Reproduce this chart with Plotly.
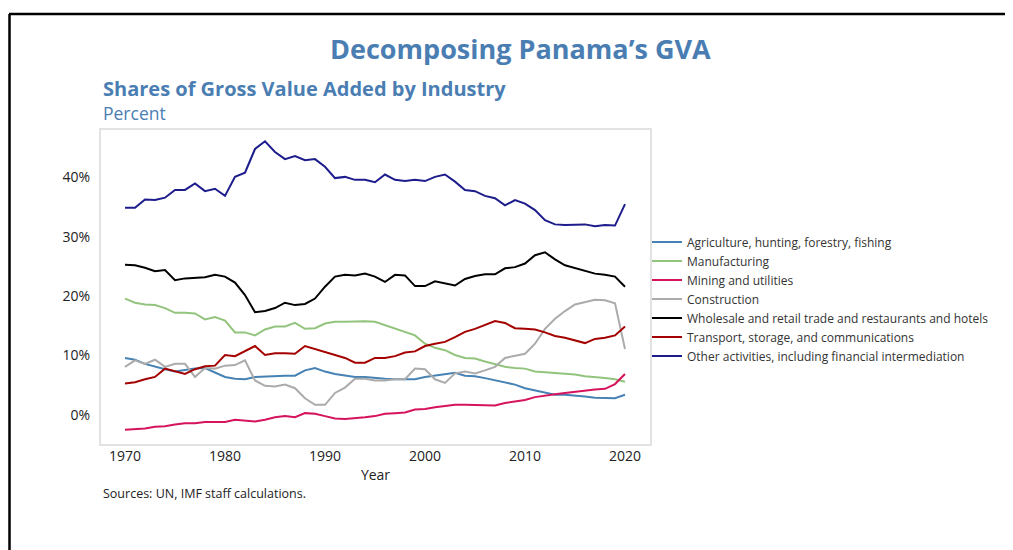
import plotly.graph_objects as go

years = list(range(1970, 2021))

agriculture = [9.6, 9.3, 8.6, 8.1, 7.7, 7.3, 7.6, 7.8, 7.9, 7.2, 6.4,
               6.1, 6.0, 6.4, 6.5, 6.6, 6.6, 6.6, 7.5, 7.9, 7.3,
               6.9, 6.6, 6.4, 6.4, 6.2, 6.1, 6.0, 6.0, 6.0, 6.4,
               6.6, 6.9, 7.1, 6.6, 6.5, 6.2, 5.8, 5.4, 5.1, 4.5,
               4.1, 3.7, 3.4, 3.4, 3.3, 3.1, 2.9, 2.8, 2.8, 3.4]
manufacturing = [19.6, 18.9, 18.6, 18.5, 18.0, 17.2, 17.2, 17.1, 16.1, 16.5, 15.9,
                 13.9, 13.9, 13.4, 14.4, 14.9, 14.9, 15.5, 14.5, 14.6, 15.4,
                 15.7, 15.7, 15.8, 15.8, 15.7, 15.1, 14.5, 14.0, 13.4, 12.0,
                 11.3, 10.9, 10.1, 9.6, 9.5, 9.0, 8.6, 8.1, 7.9, 7.8,
                 7.3, 7.2, 7.0, 6.9, 6.8, 6.5, 6.4, 6.2, 6.0, 5.6]
mining = [-2.5, -2.4, -2.3, -2.0, -1.9, -1.6, -1.4, -1.4, -1.2, -1.2, -1.2,
          -0.8, -0.9, -1.1, -0.8, -0.4, -0.2, -0.4, 0.3, 0.2, -0.2,
          -0.6, -0.7, -0.6, -0.4, -0.2, 0.2, 0.3, 0.4, 0.9, 1.0,
          1.3, 1.5, 1.7, 1.7, 1.7, 1.7, 1.6, 2.0, 2.3, 2.5,
          3.0, 3.3, 3.5, 3.7, 3.9, 4.2, 4.3, 4.4, 5.2, 6.9]
construction = [8.1, 9.2, 8.6, 9.3, 8.1, 8.6, 8.6, 6.4, 7.9, 7.8, 8.3,
                8.4, 9.2, 5.8, 4.9, 4.8, 5.1, 4.5, 2.8, 1.7, 1.7,
                3.7, 4.6, 6.1, 6.1, 5.8, 5.8, 6.0, 6.0, 7.8, 7.7,
                6.0, 5.4, 7.0, 7.3, 7.0, 7.5, 8.1, 9.6, 9.9, 10.3,
                12.0, 14.5, 16.2, 17.5, 18.6, 19.0, 19.4, 19.3, 18.8, 11.1]
wholesale = [25.3, 25.2, 24.8, 24.2, 24.4, 22.7, 23.0, 23.1, 23.2, 23.6, 23.3,
             22.3, 20.2, 17.3, 17.5, 18.0, 18.9, 18.5, 18.7, 19.6, 21.6,
             23.3, 23.6, 23.5, 23.8, 23.3, 22.4, 23.6, 23.5, 21.7, 21.7,
             22.5, 22.2, 21.8, 22.9, 23.4, 23.7, 23.7, 24.7, 24.9, 25.5,
             26.9, 27.4, 26.2, 25.2, 24.7, 24.3, 23.8, 23.6, 23.3, 21.6]
transport = [5.3, 5.5, 6.0, 6.4, 7.8, 7.4, 6.9, 7.7, 8.2, 8.3, 10.1,
             9.9, 10.7, 11.6, 10.1, 10.4, 10.4, 10.3, 11.6, 11.1, 10.6,
             10.0, 9.6, 8.8, 8.8, 9.6, 9.6, 9.9, 10.5, 10.7, 11.6,
             12.0, 12.3, 13.1, 14.0, 14.5, 15.1, 15.8, 15.5, 14.6, 14.5,
             14.4, 13.9, 13.3, 13.0, 12.6, 12.1, 12.8, 13.0, 13.4, 14.9]
other = [34.9, 34.9, 36.3, 36.2, 36.6, 37.9, 37.9, 39.0, 37.7, 38.1, 36.9,
         40.1, 40.8, 44.8, 46.1, 44.3, 43.1, 43.6, 42.9, 43.1, 41.8,
         39.9, 40.1, 39.6, 39.6, 39.2, 40.5, 39.6, 39.4, 39.6, 39.4,
         40.1, 40.5, 39.3, 37.9, 37.7, 36.9, 36.5, 35.3, 36.2, 35.6,
         34.5, 32.8, 32.1, 32.0, 32.0, 32.1, 31.8, 32.0, 31.9, 35.5]

series_names = [
    "Agriculture, hunting, forestry, fishing",
    "Manufacturing",
    "Mining and utilities",
    "Construction",
    "Wholesale and retail trade and restaurants and hotels",
    "Transport, storage, and communications",
    "Other activities, including financial intermediation",
]
series_values = [agriculture, manufacturing, mining, construction, wholesale, transport, other]
series_colors = ["#4682b4", "#93c47d", "#d6135d", "#ababab", "#000000", "#a50000", "#1c1c8c"]

x_ticks = [1970, 1980, 1990, 2000, 2010, 2020]
y_ticks = [0, 10, 20, 30, 40]
y_ticktext = [f"{v}%" for v in y_ticks]

FONT = "Open Sans"
TITLE_COLOR = "#4a7eb3"

fig = go.Figure()
for name, vals, col in zip(series_names, series_values, series_colors):
    fig.add_trace(go.Scatter(x=years, y=vals, mode="lines", name=name,
                             line=dict(color=col, width=2)))

# page offset of the figure div (body margin)
OFF = 8
W, H = 1013 - OFF, 550 - OFF
# plot area in page pixels
L, R, T, B = 101, 650, 130, 444
Lf, Rf, Tf, Bf = L - OFF, R - OFF, T - OFF, B - OFF


def px(x):
    return (x - L) / (R - L)


def py(y):
    return (B - y) / (B - T)


fig.update_layout(
    width=W, height=H,
    margin=dict(l=Lf, r=W - Rf, t=Tf, b=H - Bf),
    paper_bgcolor="white", plot_bgcolor="white",
    font=dict(family=FONT, color="#222222", size=13),
    showlegend=True,
    legend=dict(x=px(647), y=py(299), xanchor="left", yanchor="middle",
                font=dict(size=12, color="#333333"), bgcolor="rgba(0,0,0,0)",
                tracegroupgap=0),
    xaxis=dict(range=[1967.6, 2022.5], tickvals=x_ticks, showgrid=False, zeroline=False,
               showline=True, linecolor="#e2e2e2", linewidth=2, mirror=True,
               ticks="", ticklabelstandoff=-2,
               tickfont=dict(size=14, color="#222222"),
               title=dict(text="Year", font=dict(size=14, color="#222222"), standoff=6)),
    yaxis=dict(range=[-4.9, 48.0], tickvals=y_ticks, ticktext=y_ticktext, showgrid=False,
               zeroline=False, showline=True, linecolor="#e2e2e2", linewidth=2, mirror=True,
               ticks="outside", ticklen=6, tickcolor="rgba(0,0,0,0)",
               tickfont=dict(size=14, color="#222222")),
    annotations=[
        dict(text="<b>Decomposing Panama’s GVA</b>", xref="paper", yref="paper",
             x=px(520), y=py(48), xanchor="center", yanchor="middle", showarrow=False,
             font=dict(size=27, color=TITLE_COLOR, family=FONT)),
        dict(text="<b>Shares of Gross Value Added by Industry</b>", xref="paper", yref="paper",
             x=0, y=py(89), xanchor="left", yanchor="middle", showarrow=False,
             font=dict(size=20, color=TITLE_COLOR, family=FONT)),
        dict(text="Percent", xref="paper", yref="paper",
             x=0, y=py(113), xanchor="left", yanchor="middle", showarrow=False,
             font=dict(size=17.5, color=TITLE_COLOR, family=FONT)),
        dict(text="Sources: UN, IMF staff calculations.", xref="paper", yref="paper",
             x=0, y=py(493), xanchor="left", yanchor="middle", showarrow=False,
             font=dict(size=12.5, color="#222222", family=FONT)),
    ],
    shapes=[
        dict(type="line", xref="paper", yref="paper", x0=px(9), x1=px(1030), y0=py(14), y1=py(14),
             line=dict(color="black", width=2.5)),
        dict(type="line", xref="paper", yref="paper", x0=px(9.5), x1=px(9.5), y0=py(14), y1=py(580),
             line=dict(color="black", width=2.5)),
    ],
)

fig.write_html("out.html")
